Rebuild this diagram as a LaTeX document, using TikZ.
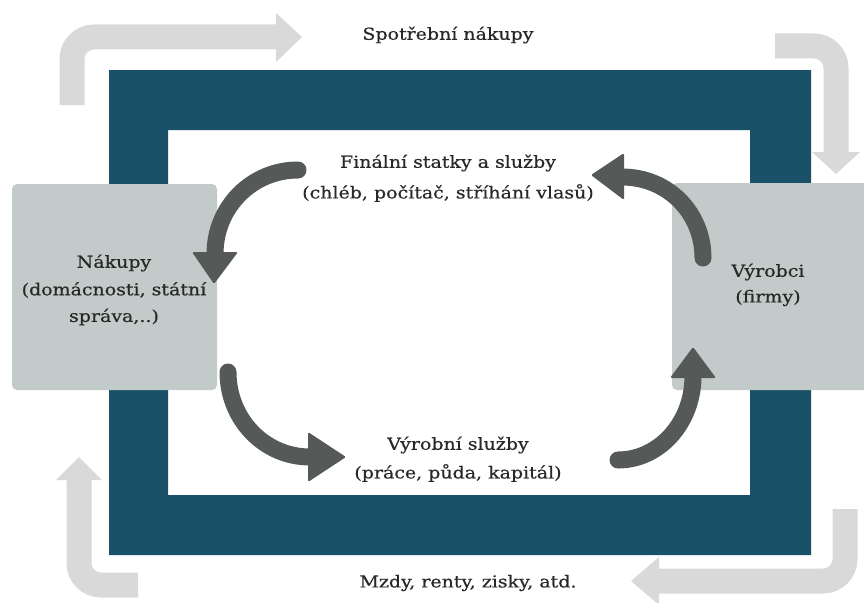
\documentclass[tikz,border=0pt]{standalone}
\usepackage{fontspec}
\setmainfont{DejaVu Serif}[FakeStretch=1.15,FakeBold=0.6]
\definecolor{frameblue}{RGB}{27,80,105}
\definecolor{boxgray}{RGB}{194,203,201}
\definecolor{darkarrow}{RGB}{85,89,88}
\definecolor{lightarrow}{RGB}{217,217,217}
\definecolor{txt}{RGB}{40,40,40}
\begin{document}
\begin{tikzpicture}[x=1pt,y=-1pt,
  lbl/.style={text=txt,font=\fontsize{16.5}{19}\selectfont,align=center,inner sep=0pt},
  lightflow/.style={draw=lightarrow,line width=25pt,rounded corners=22pt},
  lighthead/.style={fill=lightarrow},
  darkflow/.style={draw=darkarrow,line width=17pt,line cap=round},
  darkhead/.style={fill=darkarrow,rounded corners=1.5pt},
  sector/.style={fill=boxgray,rounded corners=5pt}]
\useasboundingbox (0,0) rectangle (864,602);
\begin{scope}
\clip (0,0) rectangle (864,602);
% light gray outer flows
\draw[lightflow] (72,105) -- (72,37) -- (277,37);
\fill[lighthead] (276,13) -- (302,37) -- (276,62) -- cycle;
\draw[lightflow] (775,46) -- (836,46) -- (836,153);
\fill[lighthead] (812,152) -- (836,174) -- (860,152) -- cycle;
\draw[lightflow] (79,479) -- (79,585) -- (138,585);
\fill[lighthead] (56,480) -- (79,457) -- (102,480) -- cycle;
\draw[lightflow] (845,509) -- (845,581) -- (658,581);
\fill[lighthead] (659,557) -- (631,581) -- (659,605) -- cycle;
% dark blue frame
\fill[frameblue,even odd rule] (109,70) rectangle (811,555) (168,130) rectangle (750,495);
% sectors
\node[sector,minimum width=205pt,minimum height=206pt,inner sep=0pt] (hh) at (114.5,287) {};
\node[sector,minimum width=200pt,minimum height=207pt,inner sep=0pt] (firm) at (772,286.5) {};
% dark inner flows
\coordinate (a1s) at (298,170);
\coordinate (a1e) at (215,254);
\draw[darkflow] (a1s) .. controls (252,170) and (215,207) .. (a1e);
\fill[darkhead] (192,252) -- (238,252) -- (214,284) -- cycle;
\coordinate (a2s) at (228,372);
\coordinate (a2e) at (310,457);
\draw[darkflow] (a2s) .. controls (228,419) and (264,457) .. (a2e);
\fill[darkhead] (308,432) -- (346,457) -- (308,482) -- cycle;
\coordinate (a3s) at (618,460);
\coordinate (a3e) at (693,376);
\draw[darkflow] (a3s) .. controls (659,460) and (693,423) .. (a3e);
\fill[darkhead] (670,378) -- (693,347) -- (716,378) -- cycle;
\coordinate (a4s) at (703,258);
\coordinate (a4e) at (622,177);
\draw[darkflow] (a4s) .. controls (703,213) and (668,177) .. (a4e);
\fill[darkhead] (624,153) -- (591,175) -- (624,200) -- cycle;
\end{scope}
% labels
\node[lbl] (t1) at (448,35) {Spotřební nákupy};
\node[lbl] (t2) at (448,163) {Finální statky a služby};
\node[lbl] (t3) at (448,193) {(chléb, počítač, stříhání vlasů)};
\node[lbl] (t4) at (114,263) {Nákupy};
\node[lbl] (t5) at (114,290) {(domácnosti, státní};
\node[lbl] (t6) at (114,317) {správa,..)};
\node[lbl] (t7) at (768,272) {Výrobci};
\node[lbl] (t8) at (768,298) {(firmy)};
\node[lbl] (t9) at (458,445) {Výrobní služby};
\node[lbl] (t10) at (458,473) {(práce, půda, kapitál)};
\node[lbl] (t11) at (468,583) {Mzdy, renty, zisky, atd.};
\end{tikzpicture}
\end{document}
